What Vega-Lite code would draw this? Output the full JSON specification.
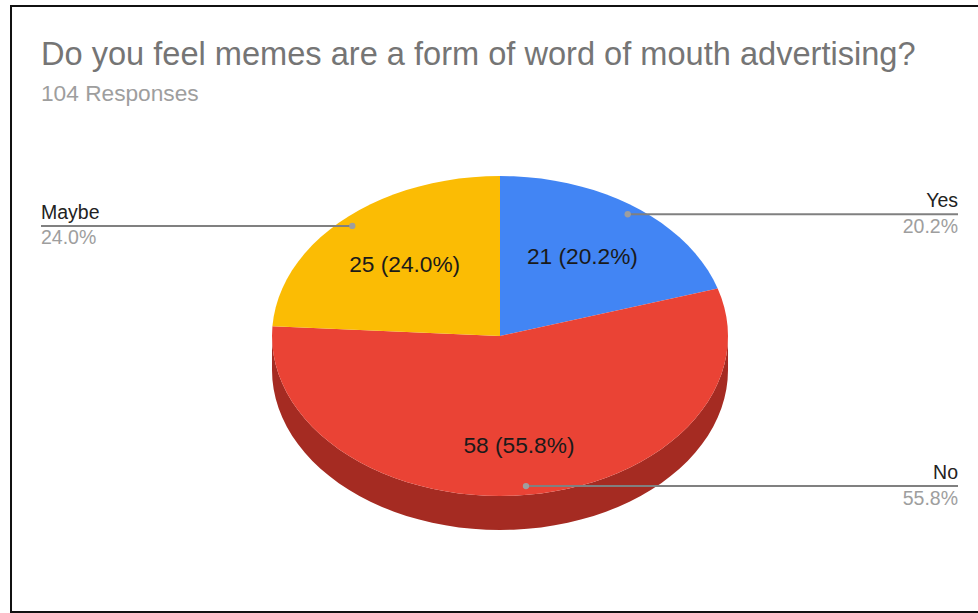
{"$schema":"https://vega.github.io/schema/vega-lite/v6.json","autosize":"none","padding":{"left":0,"right":0,"top":110,"bottom":0},"width":978,"height":503,"background":"white","view":{"stroke":null},
"title":{"text":"Do you feel memes are a form of word of mouth advertising?","subtitle":"104 Responses","anchor":"start","frame":"group","dx":41,"offset":-101,"font":"Liberation Sans","fontSize":32.6,"fontWeight":"normal","color":"#757575","subtitleFont":"Liberation Sans","subtitleFontSize":22.7,"subtitleColor":"#9e9e9e","subtitlePadding":12},
"datasets":{"answers":[{"seq":1,"answer":"Yes","count":21,"percent":"20.2%"},{"seq":2,"answer":"No","count":58,"percent":"55.8%"},{"seq":3,"answer":"Maybe","count":25,"percent":"24.0%"}],
"rim":[{"answer":"Yes","responses":0,"rim":0},{"answer":"Yes","responses":0,"rim":1},{"answer":"Yes","responses":1,"rim":1},{"answer":"Yes","responses":2,"rim":1},{"answer":"Yes","responses":3,"rim":1},{"answer":"Yes","responses":4,"rim":1},{"answer":"Yes","responses":5,"rim":1},{"answer":"Yes","responses":6,"rim":1},{"answer":"Yes","responses":7,"rim":1},{"answer":"Yes","responses":8,"rim":1},{"answer":"Yes","responses":9,"rim":1},{"answer":"Yes","responses":10,"rim":1},{"answer":"Yes","responses":11,"rim":1},{"answer":"Yes","responses":12,"rim":1},{"answer":"Yes","responses":13,"rim":1},{"answer":"Yes","responses":14,"rim":1},{"answer":"Yes","responses":15,"rim":1},{"answer":"Yes","responses":16,"rim":1},{"answer":"Yes","responses":17,"rim":1},{"answer":"Yes","responses":18,"rim":1},{"answer":"Yes","responses":19,"rim":1},{"answer":"Yes","responses":20,"rim":1},{"answer":"Yes","responses":21,"rim":1},
{"answer":"No","responses":21,"rim":0},{"answer":"No","responses":21,"rim":1},{"answer":"No","responses":22,"rim":1},{"answer":"No","responses":23,"rim":1},{"answer":"No","responses":24,"rim":1},{"answer":"No","responses":25,"rim":1},{"answer":"No","responses":26,"rim":1},{"answer":"No","responses":27,"rim":1},{"answer":"No","responses":28,"rim":1},{"answer":"No","responses":29,"rim":1},{"answer":"No","responses":30,"rim":1},{"answer":"No","responses":31,"rim":1},{"answer":"No","responses":32,"rim":1},{"answer":"No","responses":33,"rim":1},{"answer":"No","responses":34,"rim":1},{"answer":"No","responses":35,"rim":1},{"answer":"No","responses":36,"rim":1},{"answer":"No","responses":37,"rim":1},{"answer":"No","responses":38,"rim":1},{"answer":"No","responses":39,"rim":1},{"answer":"No","responses":40,"rim":1},{"answer":"No","responses":41,"rim":1},{"answer":"No","responses":42,"rim":1},{"answer":"No","responses":43,"rim":1},{"answer":"No","responses":44,"rim":1},{"answer":"No","responses":45,"rim":1},{"answer":"No","responses":46,"rim":1},{"answer":"No","responses":47,"rim":1},{"answer":"No","responses":48,"rim":1},{"answer":"No","responses":49,"rim":1},{"answer":"No","responses":50,"rim":1},{"answer":"No","responses":51,"rim":1},{"answer":"No","responses":52,"rim":1},{"answer":"No","responses":53,"rim":1},{"answer":"No","responses":54,"rim":1},{"answer":"No","responses":55,"rim":1},{"answer":"No","responses":56,"rim":1},{"answer":"No","responses":57,"rim":1},{"answer":"No","responses":58,"rim":1},{"answer":"No","responses":59,"rim":1},{"answer":"No","responses":60,"rim":1},{"answer":"No","responses":61,"rim":1},{"answer":"No","responses":62,"rim":1},{"answer":"No","responses":63,"rim":1},{"answer":"No","responses":64,"rim":1},{"answer":"No","responses":65,"rim":1},{"answer":"No","responses":66,"rim":1},{"answer":"No","responses":67,"rim":1},{"answer":"No","responses":68,"rim":1},{"answer":"No","responses":69,"rim":1},{"answer":"No","responses":70,"rim":1},{"answer":"No","responses":71,"rim":1},{"answer":"No","responses":72,"rim":1},{"answer":"No","responses":73,"rim":1},{"answer":"No","responses":74,"rim":1},{"answer":"No","responses":75,"rim":1},{"answer":"No","responses":76,"rim":1},{"answer":"No","responses":77,"rim":1},{"answer":"No","responses":78,"rim":1},{"answer":"No","responses":79,"rim":1},
{"answer":"Maybe","responses":79,"rim":0},{"answer":"Maybe","responses":79,"rim":1},{"answer":"Maybe","responses":80,"rim":1},{"answer":"Maybe","responses":81,"rim":1},{"answer":"Maybe","responses":82,"rim":1},{"answer":"Maybe","responses":83,"rim":1},{"answer":"Maybe","responses":84,"rim":1},{"answer":"Maybe","responses":85,"rim":1},{"answer":"Maybe","responses":86,"rim":1},{"answer":"Maybe","responses":87,"rim":1},{"answer":"Maybe","responses":88,"rim":1},{"answer":"Maybe","responses":89,"rim":1},{"answer":"Maybe","responses":90,"rim":1},{"answer":"Maybe","responses":91,"rim":1},{"answer":"Maybe","responses":92,"rim":1},{"answer":"Maybe","responses":93,"rim":1},{"answer":"Maybe","responses":94,"rim":1},{"answer":"Maybe","responses":95,"rim":1},{"answer":"Maybe","responses":96,"rim":1},{"answer":"Maybe","responses":97,"rim":1},{"answer":"Maybe","responses":98,"rim":1},{"answer":"Maybe","responses":99,"rim":1},{"answer":"Maybe","responses":100,"rim":1},{"answer":"Maybe","responses":101,"rim":1},{"answer":"Maybe","responses":102,"rim":1},{"answer":"Maybe","responses":103,"rim":1},{"answer":"Maybe","responses":104,"rim":1}]},
"layer":[
{"description":"Outer frame of the card; its right edge runs past the page","data":{"values":[{"frame":1}]},"mark":{"type":"rect","fill":null,"stroke":"#111111","strokeWidth":2,"clip":false},"encoding":{"x":{"datum":-2.1447,"type":"quantitative","scale":{"domain":[-2.19298,2.09649],"range":[0,978],"nice":false,"zero":false},"axis":null},"x2":{"datum":2.2},"y":{"datum":2.0625,"type":"quantitative","scale":{"domain":[-1.73125,1.4125],"range":[503,0],"nice":false,"zero":false},"axis":null},"y2":{"datum":-1.725}}},
{"description":"Side wall of the pie below the front rim","data":{"name":"rim"},"transform":[{"filter":"datum.rim===1 && datum.responses>=26 && datum.responses<=78"},{"calculate":"sin(2*PI*datum.responses/104)","as":"px"},{"calculate":"cos(2*PI*datum.responses/104)","as":"py"},{"calculate":"datum.py-0.2125","as":"pyLow"}],"mark":{"type":"area","orient":"vertical","color":"#A52B22"},"encoding":{"x":{"field":"px","type":"quantitative","scale":{"domain":[-2.19298,2.09649],"range":[0,978],"nice":false,"zero":false},"axis":null},"y":{"field":"py","type":"quantitative","scale":{"domain":[-1.73125,1.4125],"range":[503,0],"nice":false,"zero":false},"axis":null},"y2":{"field":"pyLow"}}},
{"description":"Top face: one closed wedge per answer, tilted into an ellipse","data":{"name":"rim"},"transform":[{"calculate":"datum.rim*sin(2*PI*datum.responses/104)","as":"px"},{"calculate":"datum.rim*cos(2*PI*datum.responses/104)","as":"py"},{"calculate":"datum.rim===1?datum.responses:-1","as":"path"}],"mark":{"type":"line","filled":true,"interpolate":"linear-closed"},"encoding":{"x":{"field":"px","type":"quantitative","axis":null},"y":{"field":"py","type":"quantitative","axis":null},"order":{"field":"path","type":"quantitative"},"color":{"field":"answer","type":"nominal","legend":null,"scale":{"domain":["Yes","No","Maybe"],"range":["#4285F4","#EA4335","#FBBC04"]}}}},
{"description":"Value labels, leader lines and outer labels","data":{"name":"answers"},"transform":[{"window":[{"op":"sum","field":"count","as":"end"}],"sort":[{"field":"seq","order":"ascending"}]},{"calculate":"2*PI*(datum.end-datum.count/2)/104","as":"mid"},{"calculate":"datum.answer==='No'?0.69:0.61","as":"labelR"},{"calculate":"datum.labelR*sin(datum.mid)","as":"lx"},{"calculate":"datum.labelR*cos(datum.mid)","as":"ly"},{"calculate":"0.945*sin(datum.mid)","as":"dotX"},{"calculate":"0.945*cos(datum.mid)","as":"dotY"},{"calculate":"datum.answer==='Maybe'?-2.01316:2.00877","as":"edge"},{"calculate":"datum.count+' ('+datum.percent+')'","as":"valueText"}],
"layer":[
{"mark":{"type":"text","font":"Liberation Sans","fontSize":22.7,"color":"#1a1a1a","baseline":"middle"},"encoding":{"x":{"field":"lx","type":"quantitative","axis":null},"y":{"field":"ly","type":"quantitative","axis":null},"text":{"field":"valueText"}}},
{"mark":{"type":"rule","color":"#808080","strokeWidth":2},"encoding":{"x":{"field":"dotX","type":"quantitative","axis":null},"x2":{"field":"edge"},"y":{"field":"dotY","type":"quantitative","axis":null}}},
{"mark":{"type":"point","filled":true,"color":"#9e9e9e","size":40,"opacity":1},"encoding":{"x":{"field":"dotX","type":"quantitative","axis":null},"y":{"field":"dotY","type":"quantitative","axis":null}}},
{"transform":[{"filter":"datum.answer==='Maybe'"}],"mark":{"type":"text","font":"Liberation Sans","fontSize":19.5,"color":"#222222","align":"left","baseline":"alphabetic","dy":-7},"encoding":{"x":{"field":"edge","type":"quantitative","axis":null},"y":{"field":"dotY","type":"quantitative","axis":null},"text":{"field":"answer"}}},
{"transform":[{"filter":"datum.answer==='Maybe'"}],"mark":{"type":"text","font":"Liberation Sans","fontSize":19.5,"color":"#9e9e9e","align":"left","baseline":"alphabetic","dy":18.5},"encoding":{"x":{"field":"edge","type":"quantitative","axis":null},"y":{"field":"dotY","type":"quantitative","axis":null},"text":{"field":"percent"}}},
{"transform":[{"filter":"datum.answer!=='Maybe'"}],"mark":{"type":"text","font":"Liberation Sans","fontSize":19.5,"color":"#222222","align":"right","baseline":"alphabetic","dy":-7},"encoding":{"x":{"field":"edge","type":"quantitative","axis":null},"y":{"field":"dotY","type":"quantitative","axis":null},"text":{"field":"answer"}}},
{"transform":[{"filter":"datum.answer!=='Maybe'"}],"mark":{"type":"text","font":"Liberation Sans","fontSize":19.5,"color":"#9e9e9e","align":"right","baseline":"alphabetic","dy":18.5},"encoding":{"x":{"field":"edge","type":"quantitative","axis":null},"y":{"field":"dotY","type":"quantitative","axis":null},"text":{"field":"percent"}}}
]}
]}
